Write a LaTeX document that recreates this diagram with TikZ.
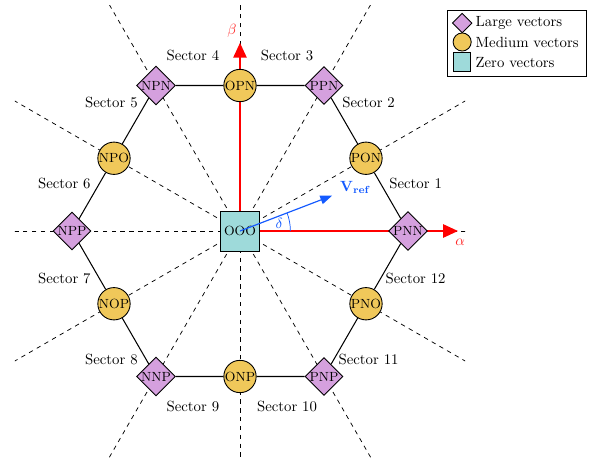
\documentclass[tikz,border=0pt]{standalone}
\usepackage{amsmath}
\usetikzlibrary{arrows.meta,shapes.geometric,backgrounds}

\definecolor{largecol}{RGB}{213,160,222}
\definecolor{medcol}{RGB}{240,200,90}
\definecolor{zerocol}{RGB}{158,218,218}
\definecolor{refblue}{RGB}{20,90,255}

\begin{document}
\begin{tikzpicture}[thick,
  large/.style={diamond, draw, fill=largecol, inner sep=0pt, minimum size=0.82cm, font=\small, line width=0.6pt},
  medium/.style={circle, draw, fill=medcol, inner sep=0pt, minimum size=0.77cm, font=\small, line width=0.6pt},
  zero/.style={rectangle, draw, fill=zerocol, inner sep=0pt, minimum size=0.95cm, font=\small, line width=0.6pt},
  sectorline/.style={dashed, line width=0.5pt},
  axis/.style={-{Triangle[length=10pt,width=9pt]}, red, line width=1pt},
  hexedge/.style={-, line width=0.7pt}]

  \useasboundingbox (-5.714,-5.452) rectangle (8.5,5.5);

  % space vectors
  \node[zero]   (OOO) at (0,0)        {OOO};
  \node[large]  (PNN) at (0:4)        {PNN};
  \node[large]  (PPN) at (60:4)       {PPN};
  \node[large]  (NPN) at (120:4)      {NPN};
  \node[large]  (NPP) at (180:4)      {NPP};
  \node[large]  (NNP) at (240:4)      {NNP};
  \node[large]  (PNP) at (300:4)      {PNP};
  \node[medium] (PON) at (30:3.464)   {PON};
  \node[medium] (OPN) at (90:3.464)   {OPN};
  \node[medium] (NPO) at (150:3.464)  {NPO};
  \node[medium] (NOP) at (210:3.464)  {NOP};
  \node[medium] (ONP) at (270:3.464)  {ONP};
  \node[medium] (PNO) at (330:3.464)  {PNO};

  \path[hexedge] (PNN) edge (PON)
                 (PON) edge (PPN)
                 (PPN) edge (OPN)
                 (OPN) edge (NPN)
                 (NPN) edge (NPO)
                 (NPO) edge (NPP)
                 (NPP) edge (NOP)
                 (NOP) edge (NNP)
                 (NNP) edge (ONP)
                 (ONP) edge (PNP)
                 (PNP) edge (PNO)
                 (PNO) edge (PNN);

  \begin{scope}[on background layer]
    \begin{scope}
      \clip (-5.36,-5.45) rectangle (5.36,5.36);
      \foreach \a in {0,30,...,330} {
        \coordinate (d\a) at (\a:8);
        \draw[sectorline] (OOO.center) -- (d\a);
      }
    \end{scope}
    \coordinate (alphaend) at (5.19,0);
    \coordinate (betaend) at (0,4.48);
    \draw[axis] (OOO.center) -- (alphaend);
    \draw[axis] (OOO.center) -- (betaend);
  \end{scope}

  \node[red!85] (alab) at (5.24,-0.27) {$\alpha$};
  \node[red!85] (blab) at (-0.19,4.76) {$\beta$};

  % reference vector
  \coordinate (vref) at (21:2.35);
  \draw[-{Triangle[length=8pt,width=6pt]}, refblue, line width=0.8pt] (OOO.center) -- (vref);
  \draw[refblue, line width=0.5pt] (1.2,0) arc[start angle=0, end angle=21, radius=1.2];
  \node[refblue] (delta) at (11:0.95) {$\delta$};
  \node[refblue] (vlab) at (2.75,1.03) {$\mathbf{V}_{\mathbf{ref}}$};

  \foreach \k in {1,...,12}
    \node (sec\k) at ({30*\k-15}:4.33) {Sector \k};

  % legend
  \draw[line width=0.6pt, fill=white] (4.93,5.26) rectangle (8.26,3.69);
  \node[large, minimum size=0.47cm] (lgL) at (5.29,4.95) {};
  \node[medium, minimum size=0.43cm] (lgM) at (5.29,4.5) {};
  \node[zero, minimum width=0.4cm, minimum height=0.45cm] (lgZ) at (5.29,4.02) {};
  \node[anchor=west] (lgLt) at (5.48,4.95) {Large vectors};
  \node[anchor=west] (lgMt) at (5.48,4.5) {Medium vectors};
  \node[anchor=west] (lgZt) at (5.48,4.02) {Zero vectors};
\end{tikzpicture}
\end{document}
